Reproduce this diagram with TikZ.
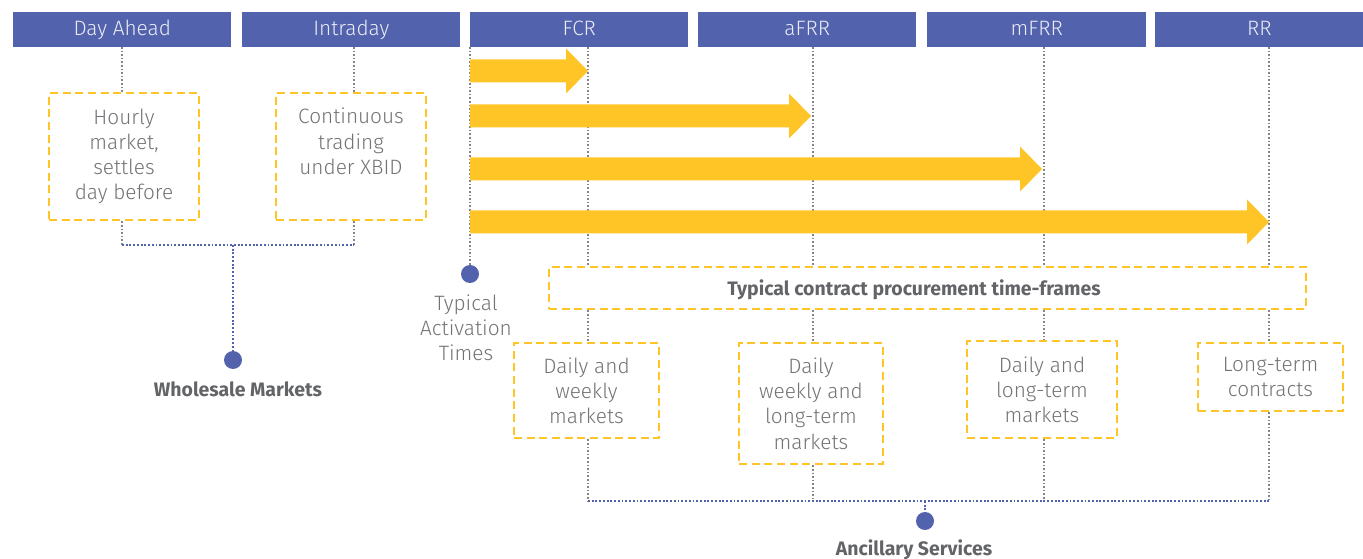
\documentclass[tikz,border=0pt]{standalone}
\usepackage{fontspec}
\setmainfont{Fira Sans}[UprightFont=* Light, BoldFont=* Bold]
\definecolor{hdr}{HTML}{5262AD}
\definecolor{ylw}{HTML}{FFC425}
\definecolor{txt}{HTML}{727376}
\definecolor{lbltxt}{HTML}{636467}
\definecolor{dotg}{HTML}{858585}
\begin{document}
\begin{tikzpicture}[x=0.75pt,y=-0.75pt,
 font=\fontsize{15.6pt}{18.9pt}\selectfont,
 hdrbox/.style={fill=hdr, text=white!88!hdr, minimum width=163.5pt, minimum height=26.25pt, inner sep=0pt, anchor=north west, text height=0.9em, text depth=0pt},
 ybox/.style={draw=ylw, line width=2.2pt, dash pattern=on 6pt off 3.5pt, align=center, text=txt, inner sep=0pt},
 gline/.style={draw=dotg, line width=0.85pt, dash pattern=on 1.2pt off 1.5pt},
 bline/.style={draw=hdr, line width=0.85pt, dash pattern=on 1.4pt off 1.4pt},
 dotn/.style={circle, fill=hdr, minimum size=13.5pt, inner sep=0pt},
 lbl/.style={text=lbltxt, font=\fontsize{14.6pt}{18.75pt}\selectfont\bfseries, text height=0.69em, text depth=0pt, inner sep=0pt},
 plain/.style={text=txt, align=center}]
\useasboundingbox (0,0) rectangle (1363,559);

% headers
\node[hdrbox] (hda) at (13,12) {Day Ahead};
\node[hdrbox] (hid) at (242,12) {Intraday};
\node[hdrbox] (hfcr) at (470,12) {FCR};
\node[hdrbox] (hafrr) at (698,12) {aFRR};
\node[hdrbox, minimum width=164.25pt] (hmfrr) at (927,12) {mFRR};
\node[hdrbox, minimum width=156pt] (hrr) at (1155,12) {RR};

% wholesale boxes
\node[ybox, minimum width=112.5pt, minimum height=95.25pt] (b1) at (124,156.5) {Hourly\\market,\\settles\\day before};
\node[ybox, minimum width=112.5pt, minimum height=95.25pt] (b2) at (351,156.5) {Continuous\\trading\\under XBID\\[4pt]};

% column coordinates
\coordinate (lda) at (122,47);
\coordinate (lid) at (354,47);
\coordinate (l0) at (470,47);
\coordinate (l1) at (588,47);
\coordinate (l2) at (813,47);
\coordinate (l3) at (1044,47);
\coordinate (l4) at (1269,47);

% procurement box
\node[ybox, minimum width=567.75pt, minimum height=31.5pt] (proc) at (927.5,288) {};
\node[lbl] (proct) at (914,290.5) {Typical contract procurement time-frames};

% sub boxes
\node[ybox, minimum width=108.75pt, minimum height=71.25pt] (sa) at (586.5,390.5) {Daily and\\weekly\\markets};
\node[ybox, minimum width=108pt, minimum height=90.75pt] (sb) at (811,403.5) {Daily\\weekly and\\long-term\\markets};
\node[ybox, minimum width=112.5pt, minimum height=72.75pt] (sc) at (1042,389.5) {Daily and\\long-term\\markets};
\node[ybox, minimum width=108.75pt, minimum height=51pt] (sd) at (1270.5,377) {Long-term\\contracts};

% dots and labels
\node[dotn] (dw) at (233,360) {};
\node[lbl] (tw) at (238,392) {Wholesale Markets};
\node[dotn] (dact) at (470,274) {};
\node[plain] (tact) at (466,327.5) {Typical\\Activation\\Times};
\node[dotn] (danc) at (925,521) {};
\node[lbl] (tanc) at (914,551) {Ancillary Services};

\coordinate (jw) at (233,245);
\coordinate (ja) at (925,501);

% wholesale connectors
\draw[gline] (lda) -- (lda |- b1.north);
\draw[gline] (lid) -- (lid |- b2.north);
\draw[gline] (lda |- b1.south) -- (lda |- jw);
\draw[gline] (lid |- b2.south) -- (lid |- jw);
\draw[bline] (lda |- jw) -- (lid |- jw);
\draw[bline] (jw) -- (dw.north);

% activation line
\draw[gline] (l0) -- (dact.north);

% column lines
\foreach \c/\b in {l1/sa, l2/sb, l3/sc, l4/sd}{
  \draw[gline] (\c) -- (\c |- proc.north);
  \draw[gline] (\c |- proc.south) -- (\c |- \b.north);
  \draw[gline] (\c |- \b.south) -- (\c |- ja);
}
\draw[bline] (l1 |- ja) -- (l4 |- ja);
\draw[bline] (ja) -- (danc.north);

% arrows
\foreach \yc/\tip in {71/588, 116/811, 169/1042, 222/1269}{
  \fill[ylw] (470,\yc-11.5) -- (\tip-22,\yc-11.5) -- (\tip-22,\yc-22.5) -- (\tip,\yc)
    -- (\tip-22,\yc+22.5) -- (\tip-22,\yc+11.5) -- (470,\yc+11.5) -- cycle;
}
\end{tikzpicture}
\end{document}
